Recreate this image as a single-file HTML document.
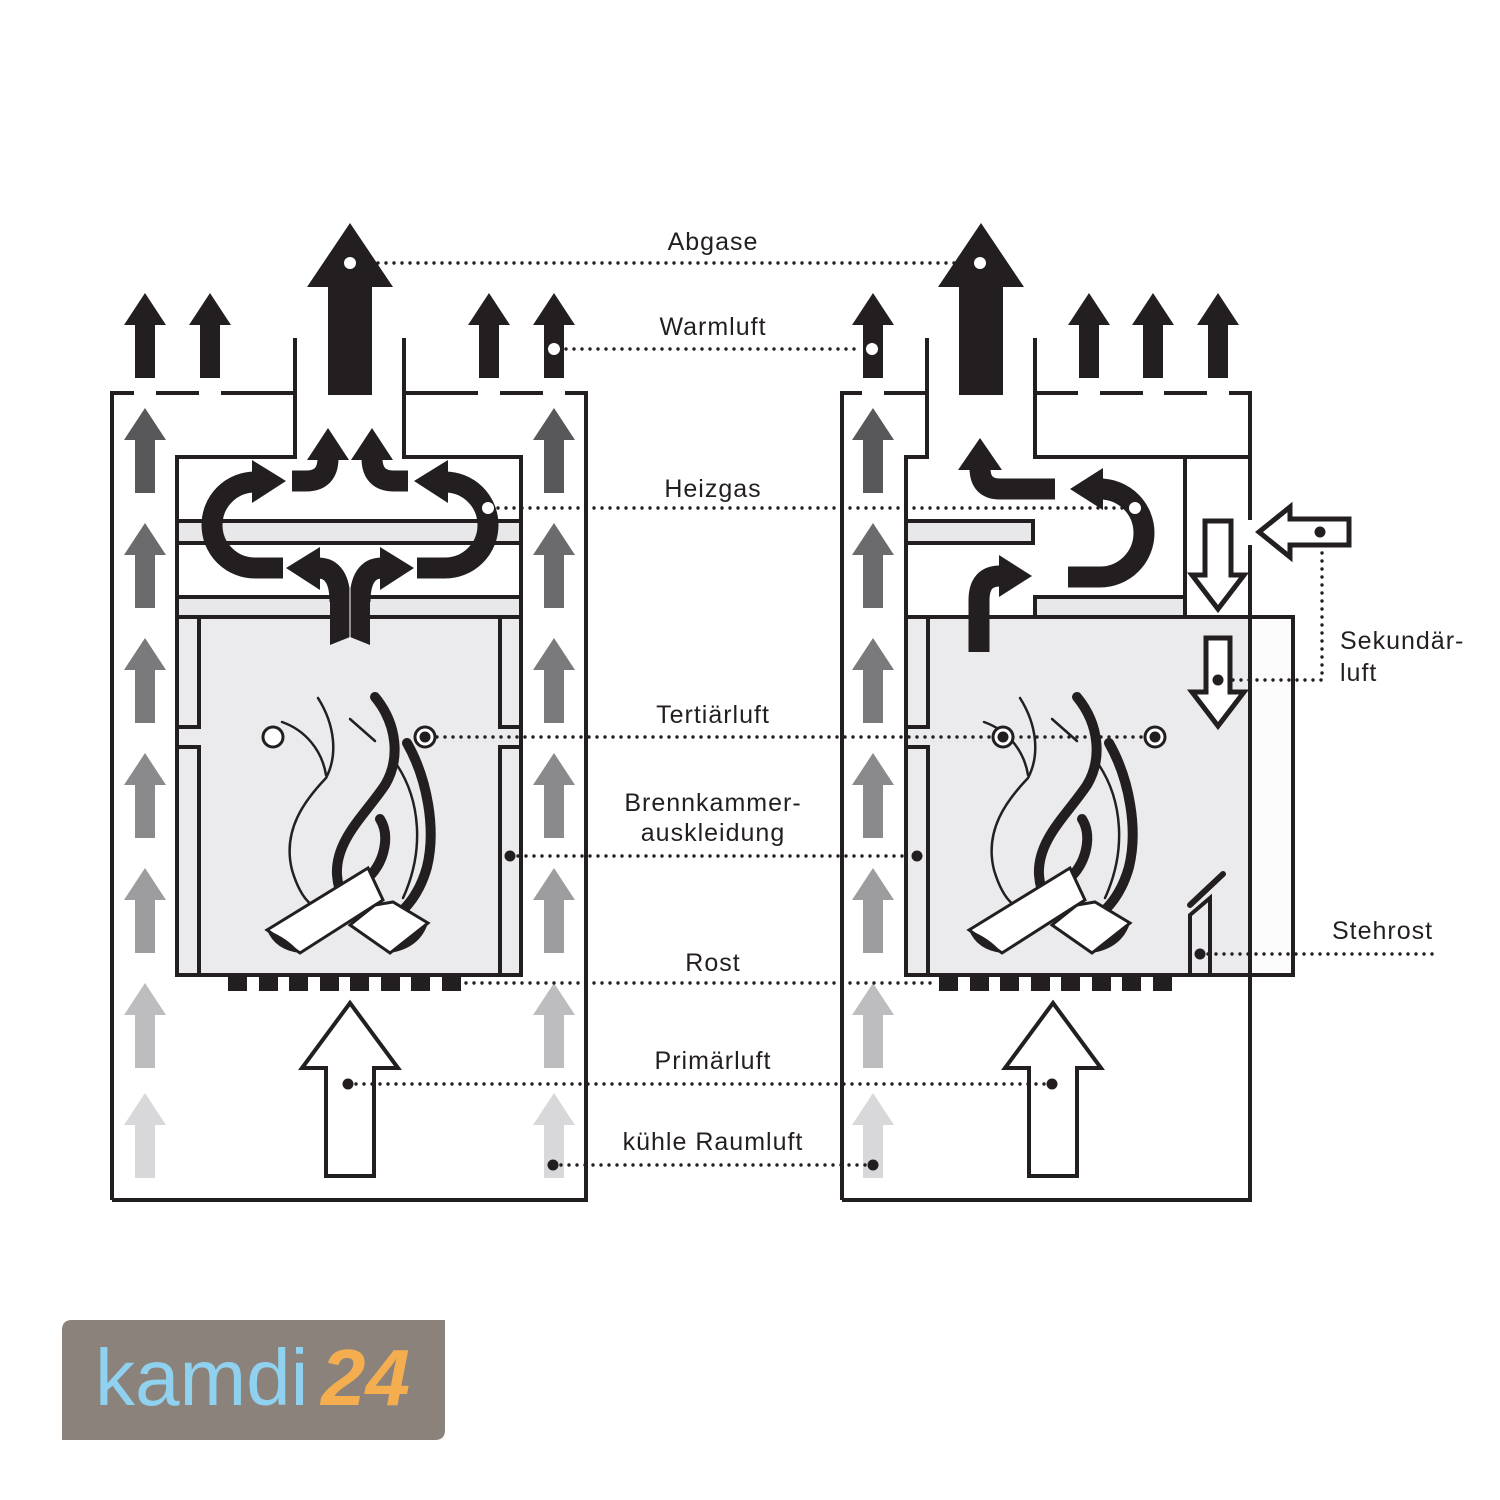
<!DOCTYPE html>
<html><head><meta charset="utf-8"><style>
html,body{margin:0;padding:0;background:#fff}
svg{display:block}
text{font-family:"Liberation Sans",sans-serif;font-size:25px;fill:#231f20;letter-spacing:1px}
</style></head><body>
<svg width="1500" height="1500" viewBox="0 0 1500 1500" xmlns="http://www.w3.org/2000/svg">
<defs>
<path id="ua" d="M0,0 L21,32 L10,32 L10,85 L-10,85 L-10,32 L-21,32Z"/>
<g id="flame">
 <g fill="none" stroke="#231f20" stroke-linecap="round">
  <path d="M318,698 C335,725 338,755 326,778 C305,800 282,830 292,870 C298,890 305,900 312,905" stroke-width="2.5"/>
  <path d="M282,722 C305,730 322,750 326,775" stroke-width="2.5"/>
  <path d="M350,719 L375,741" stroke-width="2.5"/>
  <path d="M397,765 C420,800 425,850 403,898" stroke-width="2.5"/>
  <path d="M375,697 C398,725 400,760 385,785 C365,815 335,840 337,875 C339,900 352,915 367,922" stroke-width="10"/>
  <path d="M407,743 C428,780 436,830 427,867 C422,885 413,900 403,910" stroke-width="10"/>
  <path d="M380,819 C390,835 385,860 370,876" stroke-width="10"/>
 </g>
 <polygon points="350,925 375,905 393,902 428,923 390,953" fill="#fff" stroke="#231f20" stroke-width="3"/>
 <path d="M428,923 Q420,948 390,953 Q412,938 428,923Z" fill="#231f20"/>
 <polygon points="267,930 368,868 383,900 300,953" fill="#fff" stroke="#231f20" stroke-width="3"/>
 <path d="M267,930 Q275,950 300,953 Q288,938 267,930Z" fill="#231f20"/>
</g>
</defs>

<!-- ============ LEFT UNIT ============ -->
<g stroke="#231f20" stroke-width="4" fill="none">
 <path d="M112,1200 V393 H134 M156,393 H199 M221,393 H295 V457 H177 V975 M295,338 V393 M404,338 V457 H521 V975 M404,393 H478 M500,393 H543 M565,393 H586 V1200 H112"/>
</g>
<rect x="177" y="521" width="344" height="22" fill="#e8e8ea" stroke="#231f20" stroke-width="4"/>
<rect x="177" y="597" width="344" height="20" fill="#e8e8ea" stroke="#231f20" stroke-width="4"/>
<rect x="177" y="617" width="344" height="358" fill="#ebebed" stroke="#231f20" stroke-width="4"/>
<path d="M199,617 V727 H179 M179,747 H199 V975 M500,617 V727 H519 M519,747 H500 V975" stroke="#231f20" stroke-width="4" fill="none"/>

<g fill="#231f20">
 <rect x="228" y="975" width="19" height="16"/><rect x="259" y="975" width="19" height="16"/><rect x="289" y="975" width="19" height="16"/><rect x="320" y="975" width="19" height="16"/><rect x="350" y="975" width="19" height="16"/><rect x="381" y="975" width="19" height="16"/><rect x="411" y="975" width="19" height="16"/><rect x="442" y="975" width="19" height="16"/>
</g>

<use href="#ua" x="145" y="408" fill="#58585a"/><use href="#ua" x="145" y="523" fill="#6b6b6d"/><use href="#ua" x="145" y="638" fill="#7a7a7c"/><use href="#ua" x="145" y="753" fill="#8a8a8c"/><use href="#ua" x="145" y="868" fill="#9d9d9f"/><use href="#ua" x="145" y="983" fill="#bdbdbf"/><use href="#ua" x="145" y="1093" fill="#d8d8da"/>
<use href="#ua" x="554" y="408" fill="#58585a"/><use href="#ua" x="554" y="523" fill="#6b6b6d"/><use href="#ua" x="554" y="638" fill="#7a7a7c"/><use href="#ua" x="554" y="753" fill="#8a8a8c"/><use href="#ua" x="554" y="868" fill="#9d9d9f"/><use href="#ua" x="554" y="983" fill="#bdbdbf"/><use href="#ua" x="554" y="1093" fill="#d8d8da"/>
<g fill="#231f20">
<use href="#ua" x="145" y="293"/><use href="#ua" x="210" y="293"/><use href="#ua" x="489" y="293"/><use href="#ua" x="554" y="293"/>
<polygon points="350,223 393,287 372,287 372,395 328,395 328,287 307,287"/>
</g>

<g fill="none" stroke="#231f20" stroke-width="21">
 <path d="M283,568 L255,568 A43,43 0 0 1 255,482 L258,482"/>
 <path d="M417,568 L445,568 A43,43 0 0 0 445,482 L442,482"/>
 <path d="M292,481 L306,481 Q328,481 328,458"/>
 <path d="M408,481 L394,481 Q372,481 372,458"/>
 <path d="M340,602 Q340,568 318,568"/>
 <path d="M360,602 Q360,568 382,568"/>
</g>
<g fill="#231f20">
 <polygon points="252,460 286,481 252,503"/>
 <polygon points="448,460 414,481 448,503"/>
 <polygon points="307,460 328,428 349,460"/>
 <polygon points="351,460 372,428 393,460"/>
 <polygon points="320,547 286,568 320,590"/>
 <polygon points="380,547 414,568 380,590"/>
 <polygon points="330,592 370,592 370,645 350,637 330,645"/>
</g>
<line x1="350" y1="585" x2="350" y2="640" stroke="#fff" stroke-width="1"/>

<use href="#flame"/>
<circle cx="273" cy="737" r="10" fill="#fff" stroke="#231f20" stroke-width="3"/>

<polygon points="350,1003 398,1068 374,1068 374,1176 326,1176 326,1068 302,1068" fill="#fff" stroke="#231f20" stroke-width="4"/>

<!-- ============ RIGHT UNIT ============ -->
<g stroke="#231f20" stroke-width="4" fill="none">
 <path d="M842,1200 V393 H862 M884,393 H927 V457 H906 V975 M927,338 V393 M1035,338 V457 H1250 M1035,393 H1078 M1100,393 H1143 M1164,393 H1207 M1229,393 H1250 V520 M1250,545 V1200 H842 M1185,457 V617"/>
</g>
<rect x="906" y="521" width="127" height="22" fill="#e8e8ea" stroke="#231f20" stroke-width="4"/>
<rect x="1035" y="597" width="150" height="20" fill="#e8e8ea" stroke="#231f20" stroke-width="4"/>
<rect x="1250" y="617" width="43" height="358" fill="#fcfcfc" stroke="#231f20" stroke-width="4"/>
<rect x="906" y="617" width="344" height="358" fill="#ebebed" stroke="#231f20" stroke-width="4"/>
<path d="M928,617 V727 H908 M908,747 H928 V975" stroke="#231f20" stroke-width="4" fill="none"/>

<g fill="#231f20">
 <rect x="939" y="975" width="19" height="16"/><rect x="970" y="975" width="19" height="16"/><rect x="1000" y="975" width="19" height="16"/><rect x="1031" y="975" width="19" height="16"/><rect x="1061" y="975" width="19" height="16"/><rect x="1092" y="975" width="19" height="16"/><rect x="1122" y="975" width="19" height="16"/><rect x="1153" y="975" width="19" height="16"/>
</g>

<use href="#ua" x="873" y="408" fill="#58585a"/><use href="#ua" x="873" y="523" fill="#6b6b6d"/><use href="#ua" x="873" y="638" fill="#7a7a7c"/><use href="#ua" x="873" y="753" fill="#8a8a8c"/><use href="#ua" x="873" y="868" fill="#9d9d9f"/><use href="#ua" x="873" y="983" fill="#bdbdbf"/><use href="#ua" x="873" y="1093" fill="#d8d8da"/>
<g fill="#231f20">
<use href="#ua" x="873" y="293"/><use href="#ua" x="1089" y="293"/><use href="#ua" x="1153" y="293"/><use href="#ua" x="1218" y="293"/>
<polygon points="981,223 1024,287 1003,287 1003,395 959,395 959,287 938,287"/>
</g>

<g fill="none" stroke="#231f20" stroke-width="21">
 <path d="M979,652 L979,600 Q979,576 1000,576"/>
 <path d="M1055,489 L1000,489 Q980,489 980,468"/>
 <path d="M1068,577 L1100,577 A44,44 0 0 0 1100,489 L1104,489"/>
</g>
<g fill="#231f20">
 <polygon points="999,555 1032,576 999,597"/>
 <polygon points="958,470 980,438 1002,470"/>
 <polygon points="1103,468 1070,489 1103,510"/>
</g>

<polygon points="1259,532 1290,507 1290,519 1349,519 1349,545 1290,545 1290,557" fill="#fff" stroke="#231f20" stroke-width="5"/>
<polygon points="1205,521 1231,521 1231,575 1244,575 1218,609 1192,575 1205,575" fill="#fff" stroke="#231f20" stroke-width="5"/>
<polygon points="1206,638 1230,638 1230,692 1244,692 1218,726 1192,692 1206,692" fill="#fff" stroke="#231f20" stroke-width="5"/>

<line x1="1190" y1="905" x2="1223" y2="874" stroke="#231f20" stroke-width="6" stroke-linecap="round"/>
<polygon points="1190,975 1190,915 1210,898 1210,975" fill="#ebebed" stroke="#231f20" stroke-width="4"/>

<use href="#flame" transform="translate(702,0)"/>

<polygon points="1053,1003 1101,1068 1077,1068 1077,1176 1029,1176 1029,1068 1005,1068" fill="#fff" stroke="#231f20" stroke-width="4"/>

<!-- ============ LEADER LINES ============ -->
<g stroke="#231f20" stroke-width="3.4" stroke-dasharray="0 8" stroke-linecap="round" fill="none">
 <path d="M362,263 H970"/>
 <path d="M566,349 H862"/>
 <path d="M498,508 H1127"/>
 <path d="M437,737 H1145"/>
 <path d="M518,856 H910"/>
 <path d="M466,983 H936"/>
 <path d="M356,1084 H1046"/>
 <path d="M561,1165 H866"/>
 <path d="M1322,545 V680 H1226"/>
 <path d="M1208,954 H1435"/>
</g>
<g fill="#fff">
 <circle cx="350" cy="263" r="6"/><circle cx="980" cy="263" r="6"/>
 <circle cx="554" cy="349" r="6"/><circle cx="872" cy="349" r="6"/>
 <circle cx="488" cy="508" r="6"/><circle cx="1135" cy="508" r="6"/>
</g>
<g stroke="#231f20" stroke-width="3" fill="#fff">
 <circle cx="425" cy="737" r="10"/><circle cx="1003" cy="737" r="10"/><circle cx="1155" cy="737" r="10"/>
</g>
<g fill="#231f20">
 <circle cx="425" cy="737" r="5.5"/><circle cx="1003" cy="737" r="5.5"/><circle cx="1155" cy="737" r="5.5"/>
 <circle cx="510" cy="856" r="5.5"/><circle cx="917" cy="856" r="5.5"/>
 <circle cx="348" cy="1084" r="5.5"/><circle cx="1052" cy="1084" r="5.5"/>
 <circle cx="553" cy="1165" r="5.5"/><circle cx="873" cy="1165" r="5.5"/>
 <circle cx="1320" cy="532" r="5.5"/><circle cx="1218" cy="680" r="5.5"/>
 <circle cx="1200" cy="954" r="5.5"/>
</g>

<g text-anchor="middle">
 <text x="713" y="250">Abgase</text>
 <text x="713" y="335">Warmluft</text>
 <text x="713" y="497">Heizgas</text>
 <text x="713" y="723">Tertiärluft</text>
 <text x="713" y="811">Brennkammer-</text>
 <text x="713" y="841">auskleidung</text>
 <text x="713" y="971">Rost</text>
 <text x="713" y="1069">Primärluft</text>
 <text x="713" y="1150">kühle Raumluft</text>
</g>
<text x="1340" y="649">Sekundär-</text>
<text x="1340" y="681">luft</text>
<text x="1332" y="939">Stehrost</text>

<path d="M72,1320 H445 V1430 Q445,1440 435,1440 H62 V1330 Q62,1320 72,1320Z" fill="#8a827b"/>
<text x="95" y="1405" style="font-size:80px;fill:#8fd1ef;letter-spacing:0">kamdi</text>
<text x="321" y="1405" style="font-size:80px;fill:#f4ae4f;font-weight:bold;font-style:italic;letter-spacing:0">24</text>
</svg>
</body></html>
